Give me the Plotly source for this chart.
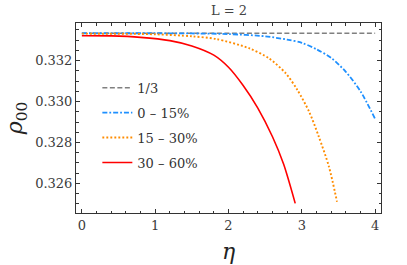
import plotly.graph_objects as go

# data
eta_ref = [0.0, 4.0]
rho_ref = [1/3, 1/3]

eta_a = [0.0, 1.0, 1.5, 2.0, 2.5, 2.8, 3.0, 3.2, 3.4, 3.6, 3.8, 4.0]
rho_a = [0.33333, 0.33333, 0.33332, 0.33329, 0.33318, 0.33302, 0.33286, 0.33255, 0.33213, 0.33145, 0.33050, 0.32915]

eta_b = [0.0, 1.0, 1.5, 1.83, 2.28, 2.55, 2.78, 2.94, 3.1, 3.23, 3.37, 3.48]
rho_b = [0.33331, 0.33328, 0.33318, 0.33305, 0.33260, 0.33211, 0.33138, 0.33056, 0.32950, 0.32830, 0.32682, 0.32511]

eta_c = [0.0, 0.4, 0.8, 1.2, 1.5, 1.8, 2.0, 2.2, 2.4, 2.6, 2.75, 2.91]
rho_c = [0.33321, 0.33320, 0.33313, 0.33297, 0.33271, 0.33226, 0.33167, 0.33078, 0.32968, 0.32828, 0.32696, 0.32503]

names = ["1/3", "0 – 15%", "15 – 30%", "30 – 60%"]
colors = ["#808080", "#1E90FF", "#FF8C00", "#FF0000"]
dashes = ["5px,2.5px", "5px,2px,1.8px,2px", "1.9px,2.1px", "solid"]
widths = [1.6, 1.8, 1.9, 1.6]

FONT = "DejaVu Serif"
fig = go.Figure()
series = [(eta_ref, rho_ref), (eta_a, rho_a), (eta_b, rho_b), (eta_c, rho_c)]
for i, ((x, y), n, c, d, w) in enumerate(zip(series, names, colors, dashes, widths)):
    fig.add_trace(go.Scatter(x=x, y=y, mode="lines", name=n, legendgroup=f"g{i}",
                             line=dict(color=c, width=w, dash=d, shape="spline", smoothing=0.8)))

axis_common = dict(showline=True, linecolor="#333333", linewidth=1, mirror="allticks",
                   ticks="inside", ticklen=4, tickcolor="#333333", showgrid=False, zeroline=False,
                   automargin=False,
                   tickfont=dict(family=FONT, size=13, color="#3a3a3a"))
fig.update_xaxes(range=[-0.08, 4.08], dtick=1, tick0=0,
                 minor=dict(ticks="inside", dtick=0.2, ticklen=2.5, tickcolor="#333333"),
                 title=dict(text="<i>η</i>", font=dict(family=FONT, size=22, color="#222222"), standoff=12),
                 **axis_common)
fig.update_yaxes(range=[0.32456, 0.33383], dtick=0.002, tick0=0.326, tickformat=".3f",
                 minor=dict(ticks="inside", dtick=0.0005, ticklen=2.5, tickcolor="#333333"),
                 title=dict(text="<i>ρ</i><sub>00</sub>", font=dict(family=FONT, size=22, color="#222222"), standoff=6),
                 **axis_common)
fig.update_layout(
    width=407, height=265,
    margin=dict(l=76, r=26, t=23, b=52),
    paper_bgcolor="white", plot_bgcolor="white",
    title=dict(text="L = 2", x=0.5625, xanchor="center", y=1 - 10 / 265, yanchor="middle",
               font=dict(family=FONT, size=13, color="#444444")),
    legend=dict(x=0.07, y=0.738, xanchor="left", yanchor="top", bgcolor="rgba(0,0,0,0)",
                font=dict(family=FONT, size=13, color="#333333"), tracegroupgap=5),
    showlegend=True,
)
fig.write_html("out.html", config={"displayModeBar": False},
               post_script="document.body.style.margin='0px';")
